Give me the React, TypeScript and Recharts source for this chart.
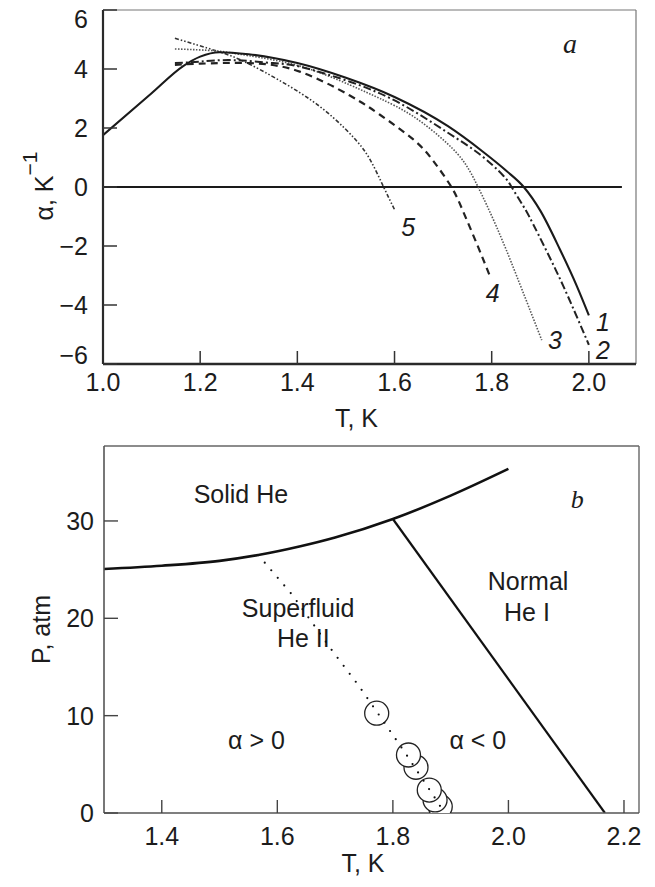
import React from 'react';
import { ComposedChart, Line, XAxis, YAxis, ReferenceLine, ReferenceDot, Scatter } from 'recharts';

const FONT = '"Liberation Sans", Arial, Helvetica, sans-serif';
const SERIF = '"Liberation Serif", "Times New Roman", serif';
const INK = '#1c1c1c';

// ---------- Panel a: alpha(T) ----------
const alphaTicks = [-6, -4, -2, 0, 2, 4, 6];
const tTicksA = [1.0, 1.2, 1.4, 1.6, 1.8, 2.0];

const curve1 = [
  { t: 1.0, v: 1.76 }, { t: 1.1, v: 3.18 }, { t: 1.165, v: 4.1 }, { t: 1.2, v: 4.42 },
  { t: 1.24, v: 4.57 }, { t: 1.3, v: 4.5 }, { t: 1.4, v: 4.2 }, { t: 1.5, v: 3.7 },
  { t: 1.6, v: 3.05 }, { t: 1.71, v: 2.06 }, { t: 1.78, v: 1.22 },
  { t: 1.83, v: 0.55 }, { t: 1.866, v: 0 }, { t: 1.9, v: -0.8 }, { t: 1.94, v: -2.1 },
  { t: 1.975, v: -3.35 }, { t: 2.0, v: -4.35 },
];
const curve2 = [
  { t: 1.148, v: 4.2 }, { t: 1.2, v: 4.25 }, { t: 1.268, v: 4.3 }, { t: 1.35, v: 4.2 },
  { t: 1.405, v: 4.08 }, { t: 1.508, v: 3.57 }, { t: 1.611, v: 2.84 },
  { t: 1.707, v: 1.87 }, { t: 1.776, v: 1.1 }, { t: 1.823, v: 0.4 }, { t: 1.841, v: 0 },
  { t: 1.864, v: -0.62 }, { t: 1.885, v: -1.25 }, { t: 1.933, v: -2.85 }, { t: 1.97, v: -4.2 },
  { t: 2.0, v: -5.35 },
];
const curve3 = [
  { t: 1.148, v: 4.68 }, { t: 1.234, v: 4.61 }, { t: 1.3, v: 4.45 }, { t: 1.405, v: 4.1 },
  { t: 1.508, v: 3.46 }, { t: 1.57, v: 3.0 }, { t: 1.638, v: 2.4 }, { t: 1.707, v: 1.5 },
  { t: 1.745, v: 0.8 }, { t: 1.772, v: 0 }, { t: 1.81, v: -1.35 },
  { t: 1.851, v: -3.0 }, { t: 1.903, v: -5.19 },
];
const curve4 = [
  { t: 1.148, v: 4.14 }, { t: 1.2, v: 4.18 }, { t: 1.302, v: 4.2 }, { t: 1.405, v: 3.91 },
  { t: 1.508, v: 3.1 }, { t: 1.57, v: 2.45 }, { t: 1.638, v: 1.62 },
  { t: 1.68, v: 0.88 }, { t: 1.717, v: 0 }, { t: 1.74, v: -0.78 }, { t: 1.77, v: -1.95 },
  { t: 1.797, v: -3.05 },
];
const curve5 = [
  { t: 1.148, v: 5.04 }, { t: 1.234, v: 4.61 }, { t: 1.302, v: 4.16 }, { t: 1.405, v: 3.2 },
  { t: 1.474, v: 2.35 }, { t: 1.52, v: 1.6 }, { t: 1.55, v: 0.92 }, { t: 1.577, v: 0.02 },
  { t: 1.601, v: -0.8 },
];

// ---------- Panel b: phase diagram ----------
const tTicksB = [1.4, 1.6, 1.8, 2.0, 2.2];
const pTicks = [0, 10, 20, 30];
const meltingCurve = [
  { t: 1.3, v: 25.07 }, { t: 1.4, v: 25.4 }, { t: 1.5, v: 25.9 }, { t: 1.567, v: 26.5 },
  { t: 1.64, v: 27.4 }, { t: 1.7, v: 28.3 }, { t: 1.8, v: 30.2 }, { t: 1.9, v: 32.6 },
  { t: 2.0, v: 35.35 },
];
const lambdaLine = [{ t: 1.8, v: 30.2 }, { t: 2.167, v: 0 }];
const zeroAlphaLine = [
  { t: 1.567, v: 26.5 }, { t: 1.626, v: 22.4 }, { t: 1.6965, v: 16.55 }, { t: 1.74, v: 13.15 },
  { t: 1.771, v: 10.5 }, { t: 1.821, v: 6.2 }, { t: 1.88, v: 0.9 }, { t: 1.888, v: 0 },
];
const zeroAlphaPoints = [
  { t: 1.882, v: 0.65 }, { t: 1.873, v: 1.34 }, { t: 1.863, v: 2.36 },
  { t: 1.84, v: 4.7 }, { t: 1.827, v: 5.96 }, { t: 1.772, v: 10.25 },
];

const minusFmt = (v: number) => (v < 0 ? '\u2212' + Math.abs(v) : String(v));
const fix1 = (v: number) => v.toFixed(1);

const tickStyle = { fontSize: 25, fill: INK, fontFamily: FONT };

// y ticks of panel a: end labels are pulled inside the frame, as in the original
const yTickA = (p: any) => {
  const v = p.payload.value;
  const shift = v === alphaTicks[alphaTicks.length - 1] ? 9 : v === alphaTicks[0] ? -9 : 0;
  return (
    <text x={p.x} y={p.y + shift} dy="0.36em" textAnchor="end" fontSize={25} fontFamily={FONT} fill={INK}>
      {minusFmt(v)}
    </text>
  );
};

const xLabel = (text: string, dx: number, dy: number) => (props: any) => {
  const vb = props.viewBox || {};
  return (
    <text x={vb.x + vb.width / 2 + dx} y={vb.y + dy} textAnchor="middle" fontSize={25} fontFamily={FONT} fill={INK}>
      {text}
    </text>
  );
};

const yLabel = (main: string, sup: string | null, dx: number, dy: number) => (props: any) => {
  const vb = props.viewBox || {};
  const bx = vb.x + dx;
  const cy = vb.y + vb.height / 2 + dy;
  return (
    <text transform={`translate(${bx},${cy}) rotate(-90)`} x={0} y={0} textAnchor="middle" fontSize={25} fontFamily={FONT} fill={INK}>
      <tspan>{main}</tspan>
      {sup ? <tspan dy="-0.75em" fontSize="21">{sup}</tspan> : null}
    </text>
  );
};

type AnnOpts = { size?: number; italic?: boolean; serif?: boolean; halo?: boolean; baseline?: boolean };
const annText = (text: string, o: AnnOpts) => (props: any) => {
  const vb = props.viewBox || {};
  const x = vb.x + (vb.width || 0) / 2;
  const y = vb.y + (vb.height || 0) / 2;
  return (
    <text
      x={x}
      y={y}
      dy={o.baseline ? 0 : '0.36em'}
      textAnchor="middle"
      fontSize={o.size || 25}
      fontStyle={o.italic ? 'italic' : 'normal'}
      fontFamily={o.serif ? SERIF : FONT}
      fill={INK}
      stroke={o.halo ? '#fff' : 'none'}
      strokeWidth={o.halo ? 7 : 0}
      style={{ paintOrder: 'stroke' }}
    >
      {text}
    </text>
  );
};

const ann = (key: string, t: number, v: number, text: string, o: AnnOpts = {}) => (
  <ReferenceDot key={key} x={t} y={v} r={0} fill="none" stroke="none" ifOverflow="visible" label={annText(text, o)} />
);

const circleShape = (p: any) => (
  <circle cx={p.cx} cy={p.cy} r={12} fill="#fff" stroke="#222" strokeWidth={1.3} />
);

export default function App() {
  return (
    <div style={{ position: 'absolute', left: 0, top: 0, width: 655, height: 887, background: '#fff' }}>
      <ComposedChart width={655} height={440} margin={{ top: 10, right: 19, bottom: 46, left: 43 }}>
        <XAxis
          type="number"
          dataKey="t"
          domain={[1.0, 2.097]}
          ticks={tTicksA}
          interval={0}
          allowDataOverflow
          tickFormatter={fix1}
          tickSize={-13}
          tickMargin={22}
          height={30}
          axisLine={{ stroke: '#2a2a2a', strokeWidth: 2.5 }}
          tickLine={{ stroke: '#333', strokeWidth: 1.5 }}
          tick={tickStyle}
          label={xLabel('T, K', -13, 63)}
        />
        <YAxis
          type="number"
          domain={[-6, 6]}
          ticks={alphaTicks}
          interval={0}
          allowDataOverflow
          tickSize={-14}
          tickMargin={29}
          width={60}
          axisLine={{ stroke: '#2a2a2a', strokeWidth: 2.2 }}
          tickLine={{ stroke: '#333', strokeWidth: 1.5 }}
          tick={yTickA}
          label={yLabel('\u03b1, K', '\u22121', 10, -1)}
        />
        <ReferenceLine y={6} stroke="#777" strokeWidth={1.2} />
        <ReferenceLine x={2.097} stroke="#777" strokeWidth={1.2} />
        <ReferenceLine segment={[{ x: 1.0, y: 0 }, { x: 2.068, y: 0 }]} stroke="#1a1a1a" strokeWidth={2.2} />
        <Line data={curve5} dataKey="v" type="natural" stroke="#333" strokeWidth={1.6} strokeDasharray="4 2 1.5 2 1.5 2" dot={false} isAnimationActive={false} />
        <Line data={curve4} dataKey="v" type="natural" stroke="#222" strokeWidth={2.2} strokeDasharray="7 5" dot={false} isAnimationActive={false} />
        <Line data={curve3} dataKey="v" type="natural" stroke="#555" strokeWidth={1.6} strokeDasharray="1.5 1.5" dot={false} isAnimationActive={false} />
        <Line data={curve2} dataKey="v" type="natural" stroke="#222" strokeWidth={2} strokeDasharray="8 3 2 3" dot={false} isAnimationActive={false} />
        <Line data={curve1} dataKey="v" type="monotone" stroke="#1a1a1a" strokeWidth={2.1} dot={false} isAnimationActive={false} />
        {ann('a', 1.961, 4.54, 'a', { serif: true, italic: true, size: 28, baseline: true })}
        {ann('n1', 2.029, -4.59, '1', { italic: true })}
        {ann('n2', 2.029, -5.51, '2', { italic: true })}
        {ann('n3', 1.93, -5.2, '3', { italic: true })}
        {ann('n4', 1.802, -3.58, '4', { italic: true })}
        {ann('n5', 1.628, -1.36, '5', { italic: true })}
      </ComposedChart>

      <ComposedChart width={655} height={447} margin={{ top: 6, right: 16, bottom: 44, left: 44 }}>
        <XAxis
          type="number"
          dataKey="t"
          domain={[1.3, 2.226]}
          ticks={tTicksB}
          interval={0}
          allowDataOverflow
          tickFormatter={fix1}
          tickSize={-13}
          tickMargin={27}
          height={30}
          axisLine={{ stroke: '#555', strokeWidth: 1.6 }}
          tickLine={{ stroke: '#444', strokeWidth: 1.4 }}
          tick={tickStyle}
          label={xLabel('T, K', -8.5, 59)}
        />
        <YAxis
          type="number"
          domain={[0, 37.7]}
          ticks={pTicks}
          interval={0}
          allowDataOverflow
          tickSize={-14}
          tickMargin={24}
          width={60}
          axisLine={{ stroke: '#555', strokeWidth: 1.6 }}
          tickLine={{ stroke: '#444', strokeWidth: 1.4 }}
          tick={tickStyle}
          label={yLabel('P, atm', null, 6, 0)}
        />
        <ReferenceLine y={37.7} stroke="#666" strokeWidth={1.4} />
        <ReferenceLine x={2.226} stroke="#666" strokeWidth={1.4} />
        <Line data={meltingCurve} dataKey="v" type="monotone" stroke="#111" strokeWidth={2.6} dot={false} isAnimationActive={false} />
        <Line data={lambdaLine} dataKey="v" type="linear" stroke="#111" strokeWidth={2.2} dot={false} isAnimationActive={false} />
        <Scatter data={zeroAlphaPoints} dataKey="v" shape={circleShape} isAnimationActive={false} />
        <Line data={zeroAlphaLine} dataKey="v" type="linear" stroke="#111" strokeWidth={2.2} strokeLinecap="round" strokeDasharray="0 10" dot={false} isAnimationActive={false} zIndex={700} />
        {ann('solid', 1.537, 32.8, 'Solid He')}
        {ann('sf1', 1.636, 21.1, 'Superfluid', { halo: true })}
        {ann('sf2', 1.645, 18.0, 'He II', { halo: true })}
        {ann('nm1', 2.034, 23.8, 'Normal')}
        {ann('nm2', 2.032, 20.6, 'He I')}
        {ann('apos', 1.564, 7.55, '\u03b1 > 0')}
        {ann('aneg', 1.947, 7.55, '\u03b1 < 0')}
        {ann('b', 2.119, 31.35, 'b', { serif: true, italic: true, size: 26, baseline: true })}
      </ComposedChart>
    </div>
  );
}
